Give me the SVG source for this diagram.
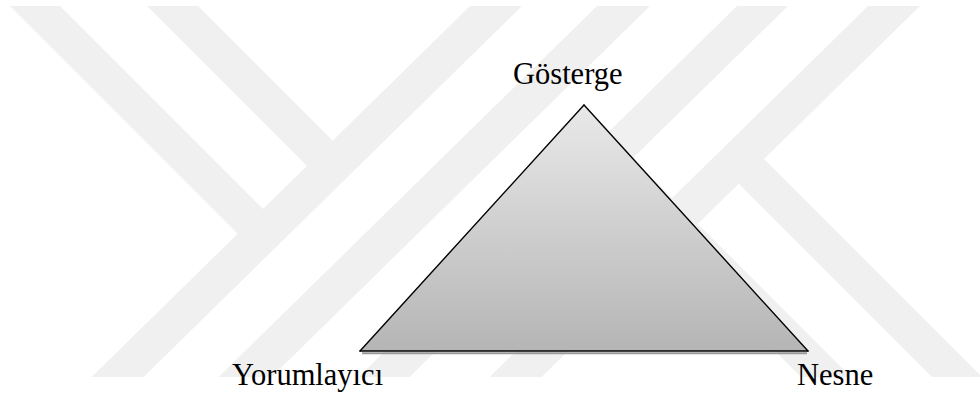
<svg xmlns="http://www.w3.org/2000/svg" width="980" height="397" viewBox="0 0 980 397">
  <style>
    .wm { fill: #f0f0f0; }
    .lbl { font-size: 30.5px; fill: #000; }
    .edge { stroke: #000; stroke-width: 1.4; fill: none; stroke-linecap: round; }
  </style>
  <defs>
    <linearGradient id="triFill" x1="0" y1="105" x2="0" y2="351" gradientUnits="userSpaceOnUse">
      <stop offset="0" stop-color="#e9e9e9"/>
      <stop offset="1" stop-color="#b5b5b5"/>
    </linearGradient>
    <clipPath id="wmClip">
      <rect x="0" y="6" width="980" height="371"/>
    </clipPath>
  </defs>

  <rect x="0" y="0" width="980" height="397" fill="#ffffff"/>

  <g id="watermark" clip-path="url(#wmClip)">
    <polygon class="wm" points="10,6 60,6 275,221 250,246"/>
    <polygon class="wm" points="147,6 198,6 345,153 320,179"/>
    <polygon class="wm" points="470,6 522,6 143.6,377 91.6,377"/>
    <polygon class="wm" points="597,6 650,6 271.6,377 218.6,377"/>
    <polygon class="wm" points="737,6 788,6 409.6,377 358.6,377"/>
    <polygon class="wm" points="868,6 920,6 541.6,377 489.6,377"/>
    <polygon class="wm" points="740,135 982,377 932,377 715,160"/>
    <polygon class="wm" points="614,140 851,377 801,377 589,165"/>
  </g>

  <g id="triangle">
    <line x1="362" y1="353.3" x2="807" y2="353.3" stroke="#9a9a9a" stroke-width="2"/>
    <polygon points="584,105 360,351 808,351" fill="url(#triFill)"/>
  </g>

  <g id="connectors">
    <line class="edge" x1="584" y1="105" x2="360" y2="351"/>
    <line class="edge" x1="584" y1="105" x2="808" y2="351"/>
    <line class="edge" x1="360" y1="351" x2="808" y2="351" stroke-width="1.8"/>
  </g>

  <g id="node-gosterge">
    <text class="lbl" font-family="'Liberation Serif', 'DejaVu Serif', serif" x="513" y="84">Gösterge</text>
  </g>
  <g id="node-yorumlayici">
    <text class="lbl" font-family="'Liberation Serif', 'DejaVu Serif', serif" x="232" y="385">Yorumlayıcı</text>
  </g>
  <g id="node-nesne">
    <text class="lbl" font-family="'Liberation Serif', 'DejaVu Serif', serif" x="797" y="385">Nesne</text>
  </g>
</svg>
